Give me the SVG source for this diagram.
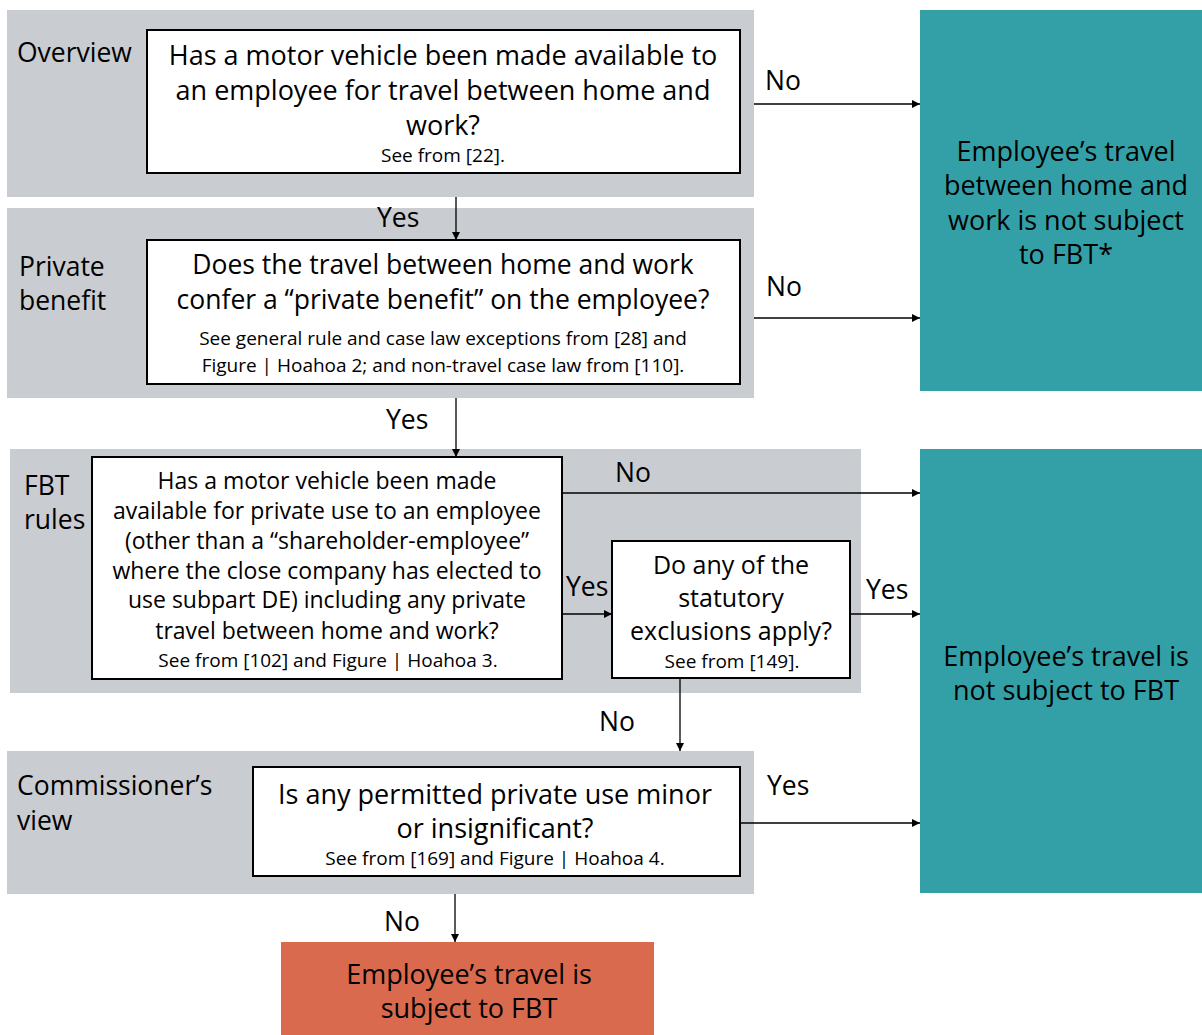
<svg xmlns="http://www.w3.org/2000/svg" width="1202" height="1035" viewBox="0 0 1202 1035">
<style>
.band{fill:#C9CCD0}
.box{fill:#fff;stroke:#000;stroke-width:2}
.teal{fill:#33A0A8}
.orange{fill:#DA6A4D}
text{font-family:"Open Sans","Noto Sans",sans-serif;fill:#000}
.lg{font-size:27px;text-anchor:middle}
.lg2{font-size:26.5px;text-anchor:middle}
.md{font-size:23px;text-anchor:middle}
.md2{font-size:25px;text-anchor:middle}
.sm{font-size:19px;text-anchor:middle}
.lab{font-size:26.5px}
.res{font-size:27px;text-anchor:middle}
.con{stroke:#000;stroke-width:1.3;fill:none;marker-end:url(#ah)}
</style>
<defs>
<marker id="ah" viewBox="0 0 10 10" refX="10" refY="5" markerWidth="8" markerHeight="8" markerUnits="userSpaceOnUse" orient="auto">
<path d="M0,0 L10,5 L0,10 z" fill="#000"/>
</marker>
</defs>
<rect width="1202" height="1035" fill="#fff"/>

<g id="band-overview">
<rect class="band" x="7" y="10" width="747" height="187"/>
<text class="lab" x="17" y="62">Overview</text>
</g>
<g id="q1">
<rect class="box" x="147" y="30" width="593" height="143"/>
<text class="lg" x="443" y="65">Has a motor vehicle been made available to</text>
<text class="lg" x="443" y="100">an employee for travel between home and</text>
<text class="lg" x="443" y="135">work?</text>
<text class="sm" x="443" y="162">See from [22].</text>
</g>

<g id="band-private">
<rect class="band" x="7" y="208" width="747" height="190"/>
<text class="lab" x="19" y="276">Private</text>
<text class="lab" x="19" y="310">benefit</text>
</g>
<g id="q2">
<rect class="box" x="147" y="240" width="593" height="144"/>
<text class="lg2" x="443" y="274">Does the travel between home and work</text>
<text class="lg2" x="443" y="309">confer a “private benefit” on the employee?</text>
<text class="sm" x="443" y="345">See general rule and case law exceptions from [28] and</text>
<text class="sm" x="443" y="372">Figure | Hoahoa 2; and non-travel case law from [110].</text>
</g>

<g id="band-fbt">
<rect class="band" x="10" y="449" width="851" height="244"/>
<text class="lab" x="24" y="495">FBT</text>
<text class="lab" x="24" y="529">rules</text>
</g>
<g id="q3">
<rect class="box" x="92" y="457" width="470" height="222"/>
<text class="md" x="327" y="489">Has a motor vehicle been made</text>
<text class="md" x="327" y="519">available for private use to an employee</text>
<text class="md" x="327" y="549">(other than a “shareholder-employee”</text>
<text class="md" x="327" y="579">where the close company has elected to</text>
<text class="md" x="327" y="608">use subpart DE) including any private</text>
<text class="md" x="327" y="639">travel between home and work?</text>
<text class="sm" x="328" y="667">See from [102] and Figure | Hoahoa 3.</text>
</g>
<g id="q4">
<rect class="box" x="612" y="541" width="238" height="137"/>
<text class="md2" x="731" y="574">Do any of the</text>
<text class="md2" x="731" y="607">statutory</text>
<text class="md2" x="731" y="640">exclusions apply?</text>
<text class="sm" x="732" y="668">See from [149].</text>
</g>

<g id="band-commissioner">
<rect class="band" x="7" y="751" width="747" height="143"/>
<text class="lab" x="17" y="795">Commissioner’s</text>
<text class="lab" x="17" y="830">view</text>
</g>
<g id="q5">
<rect class="box" x="253" y="767" width="487" height="109"/>
<text class="lg" x="495" y="804">Is any permitted private use minor</text>
<text class="lg" x="495" y="838">or insignificant?</text>
<text class="sm" x="495" y="865">See from [169] and Figure | Hoahoa 4.</text>
</g>

<g id="result-not-subject-1">
<rect class="teal" x="920" y="10" width="282" height="381"/>
<text class="res" x="1066" y="161">Employee’s travel</text>
<text class="res" x="1066" y="195">between home and</text>
<text class="res" x="1066" y="230">work is not subject</text>
<text class="res" x="1066" y="264">to FBT*</text>
</g>
<g id="result-not-subject-2">
<rect class="teal" x="920" y="449" width="282" height="444"/>
<text class="res" x="1066" y="666">Employee’s travel is</text>
<text class="res" x="1066" y="700">not subject to FBT</text>
</g>
<g id="result-subject">
<rect class="orange" x="281" y="942" width="373" height="93"/>
<text class="res" x="469" y="984">Employee’s travel is</text>
<text class="res" x="469" y="1018">subject to FBT</text>
</g>

<g id="connectors">
<path class="con" d="M754,104 H920"/>
<path class="con" d="M754,318 H920"/>
<path class="con" d="M456,197 V240"/>
<path class="con" d="M456,398 V457"/>
<path class="con" d="M562,493 H920"/>
<path class="con" d="M562,614 H612"/>
<path class="con" d="M850,614 H920"/>
<path class="con" d="M680,678 V751"/>
<path class="con" d="M740,823 H920"/>
<path class="con" d="M455,894 V942"/>
<g class="lab">
<text x="765" y="90">No</text>
<text x="766" y="296">No</text>
<text x="377" y="227">Yes</text>
<text x="386" y="429">Yes</text>
<text x="615" y="482">No</text>
<text x="566" y="596">Yes</text>
<text x="866" y="599">Yes</text>
<text x="599" y="731">No</text>
<text x="767" y="795">Yes</text>
<text x="384" y="931">No</text>
</g>
</g>
</svg>
